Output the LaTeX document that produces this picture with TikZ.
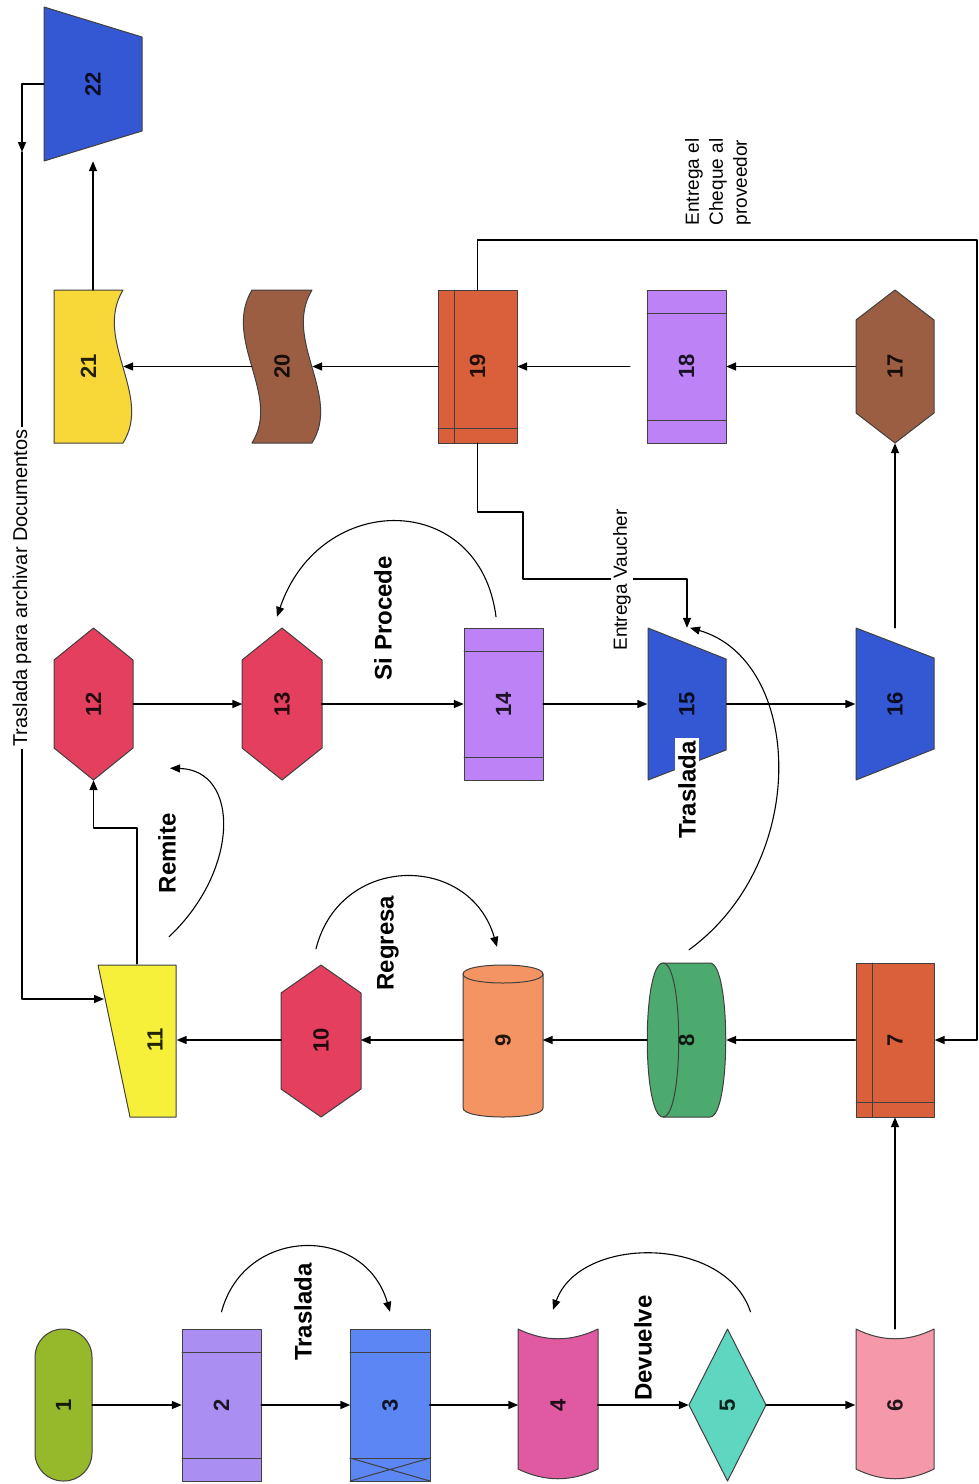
\documentclass[tikz,border=0pt]{standalone}
\usepackage{fontspec}
\setmainfont{Liberation Sans}
\usepackage{tikz}
\usetikzlibrary{arrows.meta}
\usetikzlibrary{calc}

\definecolor{verde1}{HTML}{96B82B}
\definecolor{lila}{HTML}{AA8EF2}
\definecolor{azulc}{HTML}{5B86F4}
\definecolor{magenta4}{HTML}{DF5AA0}
\definecolor{turq}{HTML}{5ED6C0}
\definecolor{rosa}{HTML}{F599AA}
\definecolor{teja}{HTML}{D9603B}
\definecolor{verde8}{HTML}{4CAA6E}
\definecolor{naranja}{HTML}{F39462}
\definecolor{rojo}{HTML}{E43F5E}
\definecolor{amarillo}{HTML}{F7F03A}
\definecolor{morado}{HTML}{BD82F6}
\definecolor{azul}{HTML}{3458D4}
\definecolor{cafe}{HTML}{9B5E42}
\definecolor{oro}{HTML}{F8D838}

\begin{document}
\begin{tikzpicture}[x=1pt,y=-1pt,line cap=round,line join=round,>={Triangle[length=10pt,width=8pt]},
  shp/.style={draw=black!75,line width=1pt},
  num/.style={inner sep=0pt,minimum width=79,minimum height=152,font=\bfseries\fontsize{22}{22}\selectfont,text opacity=0.85},
  flecha/.style={->,line width=1.5pt},
  curva/.style={->,line width=1.1pt},
  etiq/.style={inner sep=1pt,font=\bfseries\fontsize{24}{24}\selectfont},
  nota/.style={inner sep=2pt,font=\fontsize{19}{24}\selectfont}]
\fill[white] (0,0) rectangle (978,1484);
\useasboundingbox (0,0) rectangle (978,1484);

% fila de abajo
\draw[shp,fill=verde1,rounded corners=28pt] (35,1329) rectangle (92,1481);
\draw[shp,fill=lila] (182,1329) rectangle (261,1481);
\draw[shp] (182,1352) -- (261,1352) (182,1458) -- (261,1458);
\draw[shp,fill=azulc] (350,1329) rectangle (430,1481);
\draw[shp] (350,1352) -- (430,1352) (350,1458) -- (430,1458);
\draw[shp] (350,1458) -- (430,1481) (350,1481) -- (430,1458);
\draw[shp,fill=magenta4] (518,1329) .. controls (545,1342) and (571,1342) .. (598,1329) -- (598,1469) .. controls (571,1482) and (545,1482) .. (518,1469) -- cycle;
\draw[shp,fill=turq] (727.5,1329) -- (766,1405) -- (727.5,1481) -- (689,1405) -- cycle;
\draw[shp,fill=rosa] (856,1329) .. controls (882,1342) and (908,1342) .. (934,1329) -- (934,1469) .. controls (908,1482) and (882,1482) .. (856,1469) -- cycle;

% fila del medio
\draw[shp,fill=teja] (856,963) rectangle (934,1117);
\draw[shp] (872,963) -- (872,1117) (856,1102) -- (934,1102);
\draw[shp,fill=verde8] (663,963) -- (710,963) .. controls (731,963) and (731,1117) .. (710,1117) -- (663,1117) .. controls (642,1117) and (642,963) .. (663,963) -- cycle;
\draw[shp] (663,963) .. controls (684,963) and (684,1117) .. (663,1117);
\draw[shp,fill=naranja] (463,974) -- (463,1108) .. controls (463,1120) and (543,1120) .. (543,1108) -- (543,974) .. controls (543,962) and (463,962) .. (463,974) -- cycle;
\draw[shp] (463,974) .. controls (463,986) and (543,986) .. (543,974);
\draw[shp,fill=rojo] (281,993) -- (321,965) -- (361,993) -- (361,1089) -- (321,1117) -- (281,1089) -- cycle;
\draw[shp,fill=amarillo] (98,965) -- (176,965) -- (176,1117) -- (130,1117) -- cycle;

% fila de 12 a 16
\draw[shp,fill=rojo] (54,660) -- (93.5,628) -- (133,660) -- (133,748) -- (93.5,780) -- (54,748) -- cycle;
\draw[shp,fill=rojo] (242,660) -- (282,628) -- (322,660) -- (322,748) -- (282,780) -- (242,748) -- cycle;
\draw[shp,fill=morado] (464,628) rectangle (543,780);
\draw[shp] (464,651) -- (543,651) (464,757) -- (543,757);
\draw[shp,fill=azul] (648,628) -- (726,659) -- (726,750) -- (648,780) -- cycle;
\draw[shp,fill=azul] (856,628) -- (934,658) -- (934,749) -- (856,780) -- cycle;

% fila de arriba
\draw[shp,fill=cafe] (856,320) -- (895,290) -- (934,320) -- (934,413) -- (895,443) -- (856,413) -- cycle;
\draw[shp,fill=morado] (647,290) rectangle (726,443);
\draw[shp] (647,313) -- (726,313) (647,420) -- (726,420);
\draw[shp,fill=teja] (438,290) rectangle (517,443);
\draw[shp] (454,290) -- (454,443) (438,428) -- (517,428);
\draw[shp,fill=cafe] (252,290) -- (312,290) .. controls (282,340) and (342,395) .. (312,443) -- (252,443) .. controls (282,395) and (222,340) .. (252,290) -- cycle;
\draw[shp,fill=oro] (54,290) -- (123,290) .. controls (93,340) and (153,395) .. (123,443) -- (54,443) -- cycle;
\draw[shp,fill=azul] (44,7) -- (142,37) -- (142,131) -- (44,161) -- cycle;

% numeros
\node[num,minimum width=57] (n1) at (63.5,1405) {\rotatebox{90}{1}};
\node[num] (n2) at (221.5,1405) {\rotatebox{90}{2}};
\node[num] (n3) at (390,1405) {\rotatebox{90}{3}};
\node[num] (n4) at (558,1405) {\rotatebox{90}{4}};
\node[num,minimum width=77] (n5) at (727.5,1405) {\rotatebox{90}{5}};
\node[num] (n6) at (895,1405) {\rotatebox{90}{6}};
\node[num,minimum height=154] (n7) at (895,1040) {\rotatebox{90}{7}};
\node[num,minimum height=154] (n8) at (686.5,1040) {\rotatebox{90}{8}};
\node[num] (n9) at (503,1040) {\rotatebox{90}{9}};
\node[num] (n10) at (321,1040) {\rotatebox{90}{10}};
\node[num] (n11) at (137,1040) {\hspace{36pt}\rotatebox{90}{11}};
\node[num] (n12) at (93.5,704) {\rotatebox{90}{12}};
\node[num] (n13) at (282,704) {\rotatebox{90}{13}};
\node[num] (n14) at (503.5,704) {\rotatebox{90}{14}};
\node[num] (n15) at (687,704) {\rotatebox{90}{15}};
\node[num] (n16) at (895,704) {\rotatebox{90}{16}};
\node[num,minimum height=153] (n17) at (895,366.5) {\rotatebox{90}{17}};
\node[num,minimum height=153] (n18) at (686.5,366.5) {\rotatebox{90}{18}};
\node[num,minimum height=153] (n19) at (477.5,366.5) {\rotatebox{90}{19}};
\node[num,minimum width=60,minimum height=153] (n20) at (282,366.5) {\rotatebox{90}{20}};
\node[num,minimum width=69,minimum height=153] (n21) at (88.5,366.5) {\rotatebox{90}{21}};
\node[num,minimum width=98,minimum height=154] (n22) at (93,84) {\rotatebox{90}{22}};

% conectores rectos
\draw[flecha] (n1) -- (n2);
\draw[flecha] (n2) -- (n3);
\draw[flecha] (n3) -- (n4);
\draw[flecha] (n4) -- (n5);
\draw[flecha] (n5) -- (n6);
\draw[flecha] (n6) -- (n7);
\draw[flecha] (n7) -- (n8);
\draw[flecha] (n8) -- (n9);
\draw[flecha] (n9) -- (n10);
\draw[flecha] (n10) -- (n11);
\draw[flecha] (n11.north) -- ++(0,-136) -| (n12.south);
\draw[flecha] (n12) -- (n13);
\draw[flecha] (n13) -- (n14);
\draw[flecha] (n14) -- (n15);
\draw[flecha] (n15) -- (n16);
\draw[flecha] (n16) -- (n17);
\draw[flecha] (n17) -- (n18);
\draw[flecha,shorten <=17pt] (n18) -- (n19);
\draw[flecha] (n19) -- (n20);
\draw[flecha] (n20) -- (n21);
\draw[flecha] (n21.north -| n22.south) -- (n22.south);

% conectores con codo
\coordinate (k1) at (22,152);
\coordinate (in11) at (104,999);
\coordinate (c1) at (977,240);
\coordinate (c2) at (523,579);
\draw[flecha] (n22.west) -| (k1);
\draw[flecha] (k1) |- (in11);
\draw[flecha] (n19.north) |- (c1) |- (n7.east);
\draw[flecha] (n19.south) -- ++(0,69) -| (c2) -| (n15.north);

% conectores curvos
\draw[curva] ([yshift=17pt]n2.north) .. controls (245,1225) and (365,1225) .. ([yshift=17pt]n3.north);
\draw[curva] ([xshift=23pt,yshift=17pt]n5.north) .. controls (725,1235) and (580,1235) .. ([xshift=-5pt,yshift=19pt]n4.north);
\draw[curva] ([xshift=-5pt,yshift=15pt]n10.north) .. controls (340,853) and (470,853) .. ([xshift=-6pt,yshift=17pt]n9.north);
\draw[curva] ([xshift=32pt,yshift=27pt]n11.north) .. controls (240,870) and (240,770) .. ([xshift=76.5pt,yshift=12pt]n12.south);
\draw[curva] ([xshift=-7.5pt,yshift=11pt]n14.north) .. controls (480,490) and (320,490) .. ([xshift=-5pt,yshift=11pt]n13.north);
\draw[curva] ([xshift=2.5pt,yshift=13pt]n8.north) .. controls (812,860) and (802,660) .. ([xshift=3pt]n15.north);

% etiquetas
\node[etiq] (l1) at (303,1312) {\rotatebox{90}{Traslada}};
\node[etiq] (l2) at (643,1348) {\rotatebox{90}{Devuelve}};
\node[etiq] (l3) at (388,943) {\rotatebox{90}{Regresa}};
\node[etiq] (l4) at (167,853) {\rotatebox{90}{Remite}};
\node[etiq] (l5) at (383,618) {\rotatebox{90}{Si Procede}};
\node[etiq,fill=white,inner sep=3pt] (l6) at (687,790) {\rotatebox{90}{Traslada}};
\node[nota,fill=white] (l7) at (622,580) {\rotatebox{90}{Entrega Vaucher}};
\node[nota] (l8) at (718,182) {\rotatebox{90}{\begin{tabular}{@{}l@{}}Entrega el\\Cheque al\\proveedor\end{tabular}}};
\node[nota,fill=white,font=\fontsize{20}{24}\selectfont] (l9) at (22,588) {\rotatebox{90}{Traslada para archivar Documentos}};
\end{tikzpicture}
\end{document}
